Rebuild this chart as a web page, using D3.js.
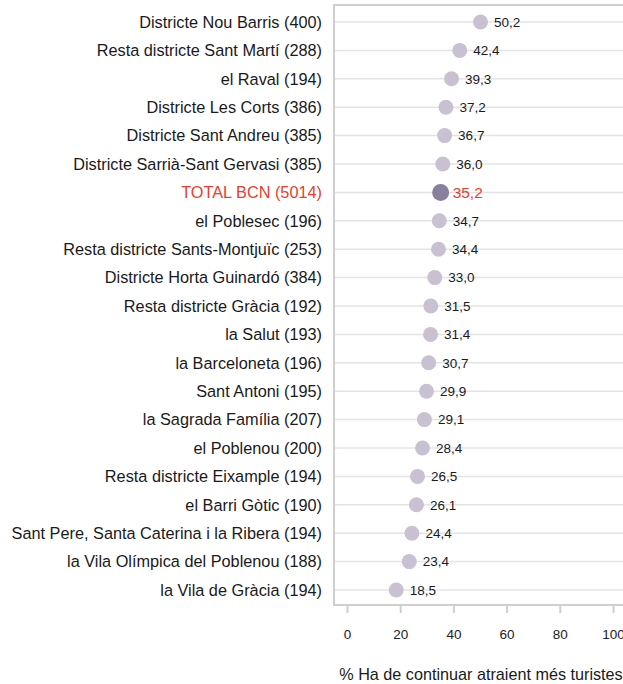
<!DOCTYPE html>
<html>
<head>
<meta charset="utf-8">
<script src="https://cdn.jsdelivr.net/npm/d3@7"></script>
<style>
  body { margin: 0; background: #fff; }
  text { font-family: "Liberation Sans", Arial, sans-serif; }
</style>
</head>
<body>
<script>
var categories = [
  "Districte Nou Barris (400)",
  "Resta districte Sant Martí (288)",
  "el Raval (194)",
  "Districte Les Corts (386)",
  "Districte Sant Andreu (385)",
  "Districte Sarrià-Sant Gervasi (385)",
  "TOTAL BCN (5014)",
  "el Poblesec (196)",
  "Resta districte Sants-Montjuïc (253)",
  "Districte Horta Guinardó (384)",
  "Resta districte Gràcia (192)",
  "la Salut (193)",
  "la Barceloneta (196)",
  "Sant Antoni (195)",
  "la Sagrada Família (207)",
  "el Poblenou (200)",
  "Resta districte Eixample (194)",
  "el Barri Gòtic (190)",
  "Sant Pere, Santa Caterina i la Ribera (194)",
  "la Vila Olímpica del Poblenou (188)",
  "la Vila de Gràcia (194)"
];
var values = [50.2, 42.4, 39.3, 37.2, 36.7, 36.0, 35.2, 34.7, 34.4, 33.0, 31.5,
              31.4, 30.7, 29.9, 29.1, 28.4, 26.5, 26.1, 24.4, 23.4, 18.5];
var xTicks = [0, 20, 40, 60, 80, 100];
var totalLabel = "TOTAL BCN (5014)";
var axisTitle = "% Ha de continuar atraient més turistes";

var width = 623, height = 684;

var svg = d3.select('body')
  .append('svg')
  .attr('width', width)
  .attr('height', height);

// 0 at 347px, 100 at 613px
var x = d3.scaleLinear().domain([0, 100]).range([347, 613]);
var y = d3.scalePoint().domain(categories).range([22, 590]);

var frameLeft = 334, frameTop = 5, frameBottom = 605;

// horizontal grid lines
svg.selectAll('line.grid')
  .data(categories)
  .enter()
  .append('line')
  .attr('class', 'grid')
  .attr('x1', frameLeft)
  .attr('x2', width + 5)
  .attr('y1', function(d) { return y(d); })
  .attr('y2', function(d) { return y(d); })
  .attr('stroke', '#e4e4e4')
  .attr('stroke-width', 1.5);

// frame
svg.append('path')
  .attr('d', 'M' + (width + 10) + ',' + frameTop + 'H' + frameLeft + 'V' + frameBottom + 'H' + (width + 10))
  .attr('fill', 'none')
  .attr('stroke', '#cfcfcf')
  .attr('stroke-width', 2);

// x axis
var xAxis = d3.axisBottom(x)
  .tickValues(xTicks)
  .tickSize(7)
  .tickPadding(16);

var gx = svg.append('g')
  .attr('transform', 'translate(0,' + (frameBottom + 1) + ')')
  .call(xAxis);
gx.select('.domain').remove();
gx.selectAll('.tick line').attr('stroke', '#cfcfcf').attr('stroke-width', 2);
gx.selectAll('.tick text')
  .attr('fill', '#222')
  .attr('font-size', '13.5px')
  .style('font-family', '"Liberation Sans", Arial, sans-serif');

// category labels
svg.selectAll('text.cat')
  .data(categories)
  .enter()
  .append('text')
  .attr('class', 'cat')
  .attr('x', 322)
  .attr('y', function(d) { return y(d); })
  .attr('dy', '0.36em')
  .attr('text-anchor', 'end')
  .attr('font-size', '16.3px')
  .attr('fill', function(d) { return d === totalLabel ? '#e8402b' : '#1a1a1a'; })
  .text(function(d) { return d; });

// dots
svg.selectAll('circle')
  .data(values)
  .enter()
  .append('circle')
  .attr('cx', function(d) { return x(d); })
  .attr('cy', function(d, i) { return y(categories[i]); })
  .attr('r', function(d, i) { return categories[i] === totalLabel ? 8.5 : 7.5; })
  .attr('fill', function(d, i) { return categories[i] === totalLabel ? '#8b7f9e' : '#c9c0d1'; });

// value labels
svg.selectAll('text.val')
  .data(values)
  .enter()
  .append('text')
  .attr('class', 'val')
  .attr('x', function(d, i) { return x(d) + (categories[i] === totalLabel ? 12 : 13.5); })
  .attr('y', function(d, i) { return y(categories[i]); })
  .attr('dy', '0.36em')
  .attr('font-size', function(d, i) { return categories[i] === totalLabel ? '15.5px' : '13.5px'; })
  .attr('fill', function(d, i) { return categories[i] === totalLabel ? '#e8402b' : '#1a1a1a'; })
  .text(function(d) { return d.toFixed(1).replace('.', ','); });

// axis title
svg.append('text')
  .attr('x', 481)
  .attr('y', 680)
  .attr('text-anchor', 'middle')
  .attr('font-size', '16.2px')
  .attr('fill', '#1a1a1a')
  .text(axisTitle);
</script>
</body>
</html>
